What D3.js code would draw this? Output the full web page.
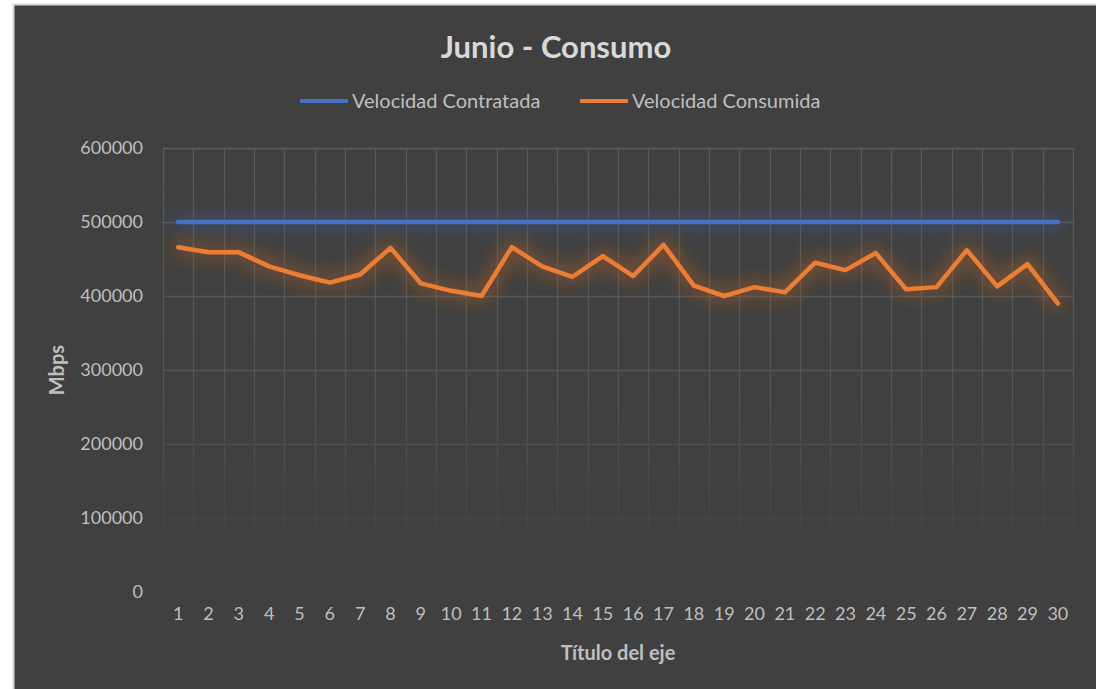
<!DOCTYPE html>
<html>
<head>
<meta charset="utf-8">
<script src="https://cdn.jsdelivr.net/npm/d3@7"></script>
<style>
html,body{margin:0;padding:0;background:#ffffff;}
svg{display:block;}
text{font-family:Lato,"Open Sans",sans-serif;}
</style>
</head>
<body>
<svg id="chart" width="1096" height="689"></svg>
<script>
const title = "Junio - Consumo";
const seriesNames = ["Velocidad Contratada", "Velocidad Consumida"];
const days = ["1","2","3","4","5","6","7","8","9","10","11","12","13","14","15","16","17","18","19","20","21","22","23","24","25","26","27","28","29","30"];
const contratada = [500000,500000,500000,500000,500000,500000,500000,500000,500000,500000,500000,500000,500000,500000,500000,500000,500000,500000,500000,500000,500000,500000,500000,500000,500000,500000,500000,500000,500000,500000];
const consumida = [466000,459000,459000,440000,428000,418000,429000,465000,417000,407000,400000,466000,440000,426000,454000,427000,469000,414000,400000,412000,405000,445000,435000,458000,409000,412000,462000,413000,443000,390000];
const yTicks = [0,100000,200000,300000,400000,500000,600000];
const xTitle = "Título del eje";
const yTitle = "Mbps";
const colors = ["#4472C4", "#ED7D31"];

const svg = d3.select("#chart");
const defs = svg.append("defs");

svg.append("rect").attr("x",13.5).attr("y",4.5).attr("width",1090).attr("height",690)
  .attr("fill","#404040").attr("stroke","#d9d9d9").attr("stroke-width",2);

const pL = 163, pR = 1073, pT = 148, pB = 592;
const x = d3.scaleBand().domain(days).range([pL, pR]).padding(0);
const y = d3.scaleLinear().domain([0,600000]).range([pB, pT]);

const grad = defs.append("linearGradient").attr("id","fade").attr("gradientUnits","userSpaceOnUse")
  .attr("x1",0).attr("y1",pT).attr("x2",0).attr("y2",pB);
grad.append("stop").attr("offset","0").attr("stop-color","#fff").attr("stop-opacity",1);
grad.append("stop").attr("offset","0.55").attr("stop-color","#fff").attr("stop-opacity",0.75);
grad.append("stop").attr("offset","0.95").attr("stop-color","#fff").attr("stop-opacity",0);
grad.append("stop").attr("offset","1").attr("stop-color","#fff").attr("stop-opacity",0);
const mask = defs.append("mask").attr("id","gridMask").attr("maskUnits","userSpaceOnUse")
  .attr("x",0).attr("y",0).attr("width",1096).attr("height",689);
mask.append("rect").attr("x",0).attr("y",0).attr("width",1096).attr("height",689).attr("fill","url(#fade)");

const grid = svg.append("g").attr("mask","url(#gridMask)");
grid.selectAll("line.h").data(yTicks.filter(d=>d>0)).join("line").attr("class","h")
  .attr("x1",pL).attr("x2",pR)
  .attr("y1",d=>Math.round(y(d))+0.5).attr("y2",d=>Math.round(y(d))+0.5)
  .attr("stroke","#5b5b5b").attr("stroke-width",1.3);
const bounds = days.map(d=>x(d)).concat([pR]);
grid.selectAll("line.v").data(bounds).join("line").attr("class","v")
  .attr("x1",d=>Math.round(d)+0.5).attr("x2",d=>Math.round(d)+0.5)
  .attr("y1",pT).attr("y2",pB)
  .attr("stroke","#5b5b5b").attr("stroke-width",1.3);

function glow(id, color, op){
  const f = defs.append("filter").attr("id",id).attr("filterUnits","userSpaceOnUse")
    .attr("x",0).attr("y",0).attr("width",1096).attr("height",689);
  f.append("feMorphology").attr("in","SourceAlpha").attr("operator","dilate").attr("radius",3).attr("result","d");
  f.append("feGaussianBlur").attr("in","d").attr("stdDeviation",9).attr("result","b");
  f.append("feFlood").attr("flood-color",color).attr("flood-opacity",op);
  f.append("feComposite").attr("in2","b").attr("operator","in").attr("result","g");
  const m = f.append("feMerge");
  m.append("feMergeNode").attr("in","g");
  m.append("feMergeNode").attr("in","SourceGraphic");
}
glow("glowBlue", "#3d5fa3", 0.5);
glow("glowOrange", "#c0641f", 0.5);

const line = d3.line().x((d,i)=>x(days[i]) + x.bandwidth()/2).y(d=>y(d));

[contratada, consumida].forEach((s,k)=>{
  svg.append("path").datum(s).attr("d",line)
    .attr("fill","none").attr("stroke",colors[k]).attr("stroke-width",4.5)
    .attr("stroke-linejoin","round").attr("stroke-linecap","round")
    .attr("filter", k===0 ? "url(#glowBlue)" : "url(#glowOrange)");
});

const yAxis = d3.axisLeft(y).tickValues(yTicks).tickSize(0).tickPadding(0).tickFormat(d=>String(d));
const ya = svg.append("g").attr("transform",`translate(143,0)`).call(yAxis);
ya.select(".domain").remove();
ya.selectAll("text").attr("fill","#bfbfbf").attr("font-size",18).attr("font-family","Lato,'Open Sans',sans-serif");

const xAxis = d3.axisBottom(x).tickSize(0).tickPadding(0);
const xa = svg.append("g").attr("transform",`translate(0,607)`).call(xAxis);
xa.select(".domain").remove();
xa.selectAll("text").attr("fill","#bfbfbf").attr("font-size",18).attr("font-family","Lato,'Open Sans',sans-serif");

svg.append("text").attr("x",556).attr("y",58).attr("text-anchor","middle")
  .attr("fill","#d9d9d9").attr("font-size",31).attr("font-weight","bold").text(title);

svg.append("text").attr("x",618).attr("y",660).attr("text-anchor","middle")
  .attr("fill","#bfbfbf").attr("font-size",20).attr("font-weight","bold").text(xTitle);
svg.append("text").attr("transform","translate(64,370) rotate(-90)").attr("text-anchor","middle")
  .attr("fill","#bfbfbf").attr("font-size",20).attr("font-weight","bold").text(yTitle);

const legX = [300, 580];
seriesNames.forEach((n,k)=>{
  svg.append("line").attr("x1",legX[k]).attr("x2",legX[k]+48).attr("y1",101).attr("y2",101)
    .attr("stroke",colors[k]).attr("stroke-width",4);
  svg.append("text").attr("x",legX[k]+52).attr("y",108).attr("fill","#bfbfbf").attr("font-size",20).text(n);
});
</script>
</body>
</html>
